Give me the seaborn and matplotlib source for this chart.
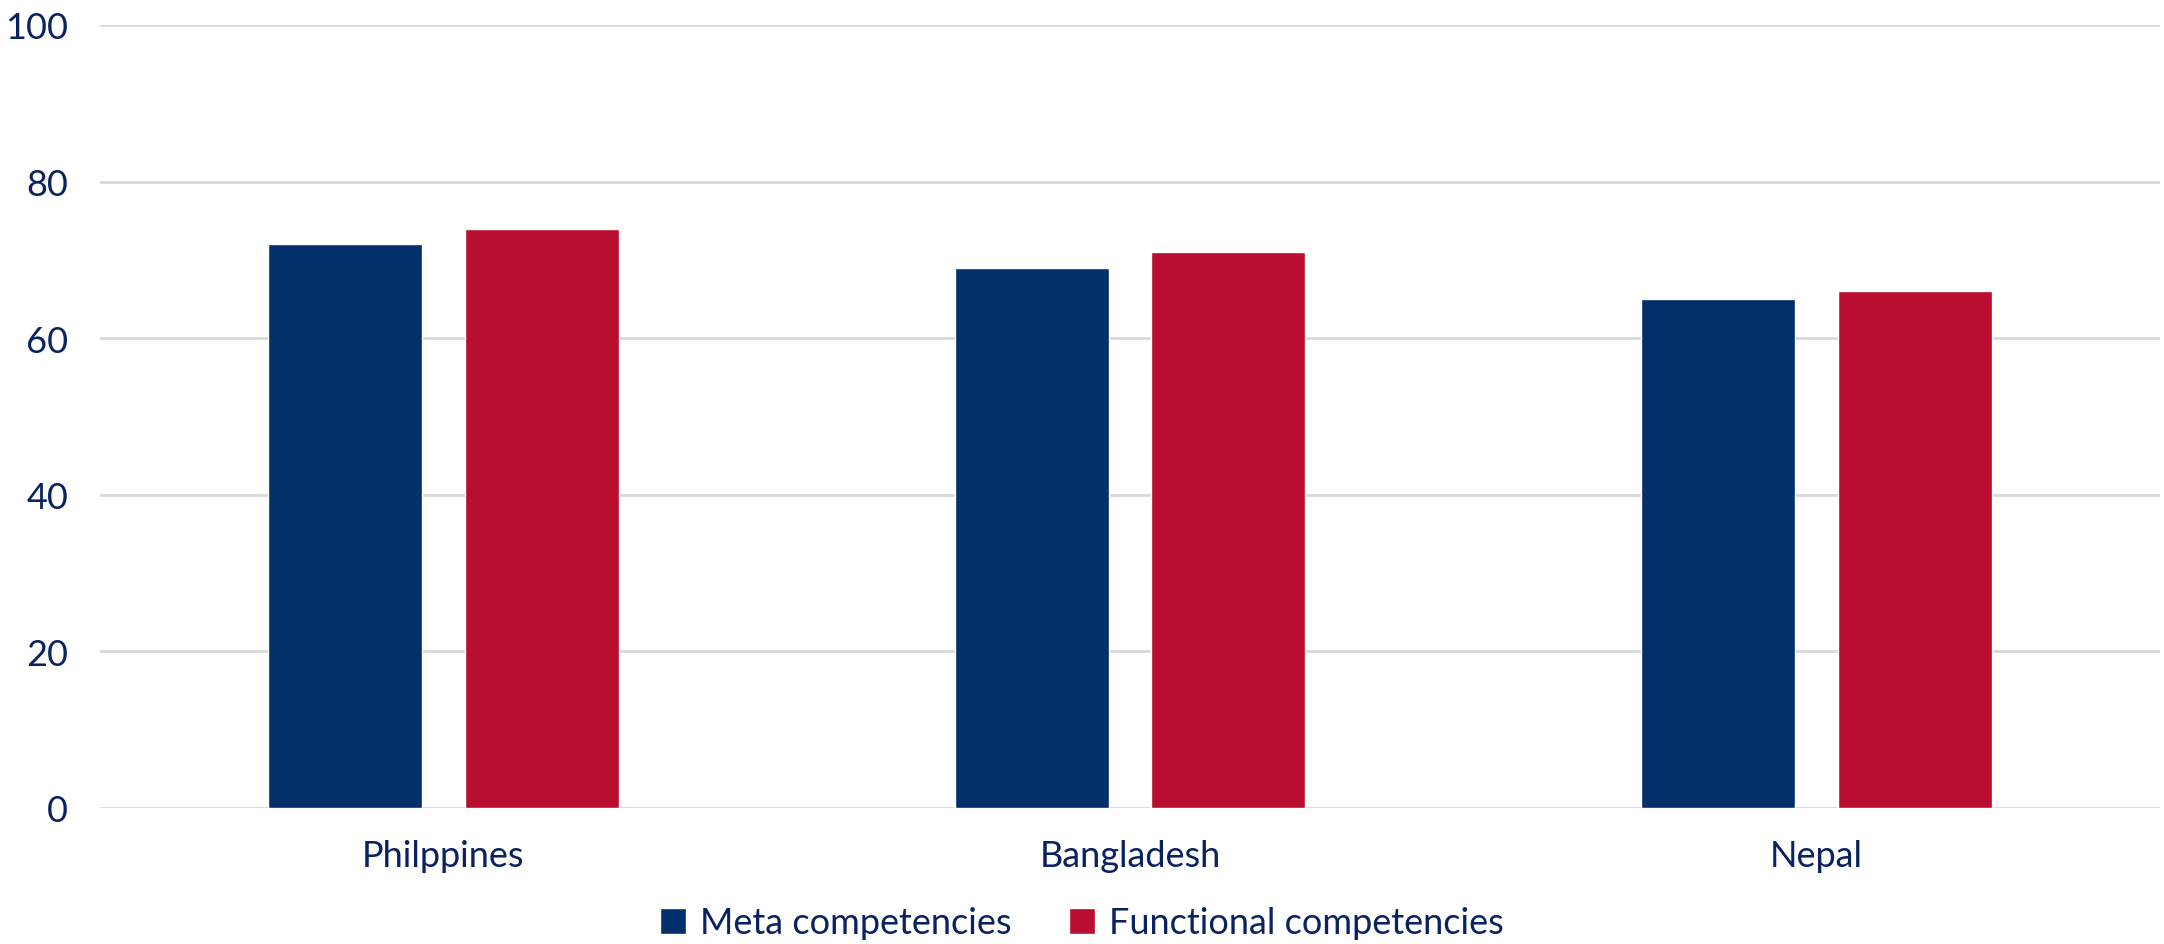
import matplotlib
matplotlib.use("Agg")
import matplotlib.pyplot as plt
import seaborn as sns
import pandas as pd
from matplotlib.patches import Patch

countries = ["Philppines", "Bangladesh", "Nepal"]
meta = [72, 69, 65]
functional = [74, 71, 66]
series_names = ["Meta competencies", "Functional competencies"]
yticks = [0, 20, 40, 60, 80, 100]

navy = "#01306B"
red = "#B90E30"
text_col = "#0B2260"

df = pd.DataFrame({
    "country": countries * 2,
    "value": meta + functional,
    "series": [series_names[0]] * 3 + [series_names[1]] * 3,
})

sns.set_theme(style="white")
plt.rcParams["font.family"] = ["Lato", "DejaVu Sans"]

fig = plt.figure(figsize=(21.64, 9.45), dpi=100)
ax = fig.add_axes([100 / 2164, 1 - 809 / 945, 2060 / 2164, (809 - 26) / 945])

sns.barplot(data=df, x="country", y="value", hue="series",
            palette=[navy, red], width=0.573, gap=0.218,
            saturation=1, ax=ax, legend=False)

ax.set_ylim(0, 100)
ax.set_xlim(-0.5, 2.5)
ax.set_yticks(yticks)
ax.yaxis.grid(True, color="#d9d9d9", linewidth=2)
ax.set_axisbelow(True)
for s in ax.spines.values():
    s.set_visible(False)
ax.set_xlabel("")
ax.set_ylabel("")
ax.tick_params(axis="y", length=0, pad=23, labelsize=26, labelcolor=text_col)
ax.tick_params(axis="x", length=0, pad=22, labelsize=26, labelcolor=text_col)

handles = [Patch(facecolor=navy), Patch(facecolor=red)]
fig.legend(handles, series_names, loc="center", bbox_to_anchor=(0.5, 1 - 924 / 945),
           ncol=2, frameon=False, fontsize=26, labelcolor=text_col,
           handlelength=0.7, handleheight=0.7, handletextpad=0.4, columnspacing=1.6)

fig.savefig("out.png", dpi=100, facecolor="white")
